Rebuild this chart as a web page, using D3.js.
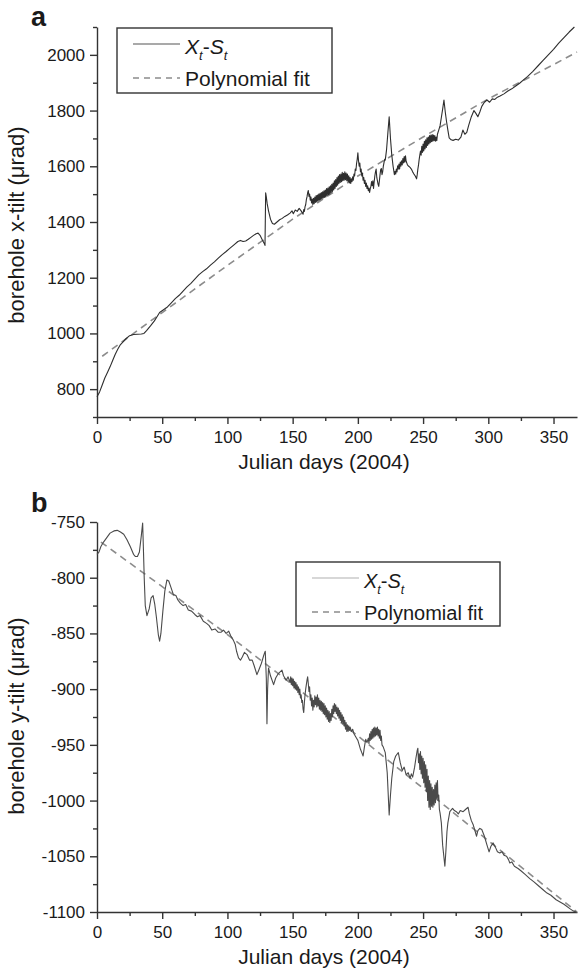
<!DOCTYPE html>
<html>
<head>
    <title></title>
    <meta http-equiv="content-type" content="text/html; charset=utf-8">
    <script type="text/javascript" src="https://cdn.jsdelivr.net/npm/d3@7"></script>
    <style>
        body { margin: 0; background: #fff; }
        text { font-family: "Liberation Sans", Arial, sans-serif; fill: #1a1a1a; }
    </style>
</head>
<body>
<div class='chart'></div>
<script type="text/javascript">
// ======================
// data, [day, tilt]
// ======================
var xTicks = [0, 50, 100, 150, 200, 250, 300, 350];
var xMinor = [25, 75, 125, 175, 225, 275, 325];
var aYTicks = [800, 1000, 1200, 1400, 1600, 1800, 2000];
var aYMinor = [700, 900, 1100, 1300, 1500, 1700, 1900, 2100];
var bYTicks = [-750, -800, -850, -900, -950, -1000, -1050, -1100];
var bYMinor = [-775, -825, -875, -925, -975, -1025, -1075];

// panel a: x-tilt
var aSeries = [[0,773],[2,790],[4,815],[6,840],[8,860],[10,880],[12,903],[14,925],[16,944],
    [18,960],[20,970],[22,980],[25,992],[28,996],[31,997],[34,998],[36,1000],[38,1010],[41,1027],
    [44,1045],[46,1060],[48,1075],[51,1085],[54,1095],[57,1110],[60,1125],[63,1137],[66,1152],
    [69,1167],[72,1180],[75,1195],[78,1210],[81,1222],[84,1232],[87,1245],[90,1257],[93,1270],
    [96,1283],[99,1294],[102,1306],[105,1318],[108,1330],[110,1334],[112,1330],[114,1332],
    [116,1338],[118,1345],[120,1352],[122,1358],[123.5,1360],[125,1352],[126.5,1338],[128,1325],
    [128.8,1316],[129.3,1505],[129.8,1490],[130.5,1465],[131.5,1440],[133,1410],[134.5,1395],
    [136,1392],[138,1400],[140,1408],[142,1413],[144,1420],[146,1425],[148,1432],[149.5,1440],
    [150.5,1430],[152,1443],[153.5,1438],[155,1449],[156.5,1440],[157.5,1432],
    [158,1428],[158.5,1445],[159,1438],[159.5,1455],[160,1462],[160.5,1480],[161,1490],
    [161.5,1505],[162,1513],[162.5,1492],[163,1500],[163.5,1478],[164,1490],[164.5,1468],
    [165,1482],[165.5,1462],[166,1485],[166.5,1466],[167,1490],[167.5,1470],[168,1495],
    [168.5,1472],[169,1497],[169.5,1476],[170,1500],[170.5,1478],[171,1503],[171.5,1480],
    [172,1506],[172.5,1484],[173,1508],[173.5,1486],[174,1512],[174.5,1488],[175,1515],
    [175.5,1490],[176,1520],[176.5,1495],[177,1522],[177.5,1498],[178,1526],[178.5,1500],
    [179,1530],[179.5,1505],[180,1535],[180.5,1510],[181,1540],[181.5,1515],[182,1548],
    [182.5,1520],[183,1552],[183.5,1528],[184,1560],[184.5,1532],[185,1565],[185.5,1538],
    [186,1570],[186.5,1542],[187,1572],[187.5,1545],[188,1578],[188.5,1548],[189,1575],
    [189.5,1550],[190,1580],[190.5,1552],[191,1576],[191.5,1548],[192,1572],[192.5,1545],
    [193,1566],[193.5,1540],[194,1560],[194.5,1538],[195,1555],[195.5,1545],[196,1562],
    [196.5,1550],[197,1572],[197.5,1565],[198,1590],[198.5,1585],[199,1610],[199.5,1625],
    [200,1648],[200.5,1620],[201,1600],[201.5,1612],[202,1580],[202.5,1590],[203,1565],
    [203.5,1575],[204,1550],[204.5,1560],[205,1538],[205.5,1550],[206,1528],[206.5,1540],
    [207,1520],[207.5,1530],[208,1512],[208.5,1522],[209,1506],[209.5,1520],[210,1528],
    [210.5,1545],[211,1530],[211.5,1548],[212,1520],[212.5,1545],[213,1565],[213.5,1580],
    [214,1590],[214.5,1560],[215,1548],[215.5,1535],[216,1528],[216.5,1548],[217,1570],
    [217.5,1588],[218,1592],[218.5,1570],[219,1580],[219.5,1600],[220,1612],[220.5,1625],
    [221,1622],[222,1660],[223,1720],[224,1778],[225,1700],[226,1640],[227,1600],[228,1570],
    [228.5,1582],[229,1572],[229.5,1590],[230,1580],[230.5,1602],[231,1590],[231.5,1608],
    [232,1590],[232.5,1615],[233,1600],[233.5,1620],[234,1605],[234.5,1628],[235,1612],
    [235.5,1635],[236,1615],[236.5,1638],[237,1618],[237.5,1612],[238,1605],[239,1600],
    [240,1596],[241,1590],[242,1580],[243,1572],[244,1565],[245,1555],[245.5,1570],[246,1590],
    [246.5,1605],[247,1625],[247.5,1640],[248,1655],[248.5,1640],[249,1672],[249.5,1650],
    [250,1680],[250.5,1655],[251,1690],[251.5,1662],[252,1695],[252.5,1668],[253,1702],
    [253.5,1675],[254,1705],[254.5,1680],[255,1710],[255.5,1685],[256,1712],[256.5,1688],
    [257,1714],[257.5,1690],[258,1712],[258.5,1692],[259,1710],[259.5,1690],[260,1705],
    [260.5,1692],[261,1715],[262,1730],[263,1745],[264,1775],[265,1805],[266,1838],[267,1795],
    [268,1760],[269,1730],[270,1702],[271.5,1695],[273,1693],[275,1697],[277,1694],[279,1705],
    [280.5,1730],[282,1715],[283.5,1722],[285,1748],[287,1778],[289,1800],[290.5,1790],
    [292,1778],[293.5,1795],[295,1815],[297,1830],[299,1838],[301,1830],[303,1842],[305,1840],
    [307,1848],[309,1852],[312,1860],[315,1870],[318,1878],[321,1888],[324,1898],[327,1910],
    [330,1922],[334,1940],[338,1960],[342,1980],[346,2000],[350,2020],[354,2042],[358,2062],
    [362,2082],[366,2100]];
var aFit = [[4,918],[50,1075],[100,1244],[150,1410],[200,1565],[250,1705],[300,1842],
    [350,1965],[368,2010]];

// panel b: y-tilt
var bSeries = [[0,-779],[1.5,-777],[3,-772],[5,-768],[7.5,-764],[10,-760],[13,-758],
    [15.5,-757.5],[18,-759],[20.5,-761],[23,-766],[25.5,-772],[28,-779],[29.5,-781],[31,-781],
    [32.5,-777],[34,-762],[35,-751],[35.6,-775],[36.2,-800],[37,-825],[38.3,-834],[40,-828],
    [41.5,-818],[43,-816],[44.3,-824],[45.5,-835],[47,-851],[48,-857],[49,-850],[50.5,-830],
    [52,-812],[53.6,-802],[55,-803],[56.5,-808],[58.5,-815],[60.5,-816],[62,-820],[64,-823],
    [66,-825],[68,-824],[70,-829],[72.5,-830],[75,-833],[77,-835],[79,-834],[81.5,-839],
    [84,-841],[86,-843],[88,-847],[90.5,-846],[93,-849],[95,-849],[97,-847],[99,-850],
    [101,-848],[102.5,-852],[104.5,-856],[106,-860],[107,-866],[108.5,-872],[110,-874],
    [111.5,-871],[113,-867],[115,-869],[117,-874],[119,-874],[120.5,-879],[122.6,-887],
    [124,-883],[126,-877],[128,-869],[129,-866],[129.8,-890],[130.3,-931],[130.8,-900],
    [131.5,-881],[133,-888],[135.4,-896],[137,-890],[139,-886],[141.8,-883],[143,-888],
    [145,-892],[146.5,-889],[148,-894],
    [148.5,-889],[149,-896],[149.5,-890],[150,-897],[150.5,-891],[151,-899],[151.5,-893],
    [152,-900],[152.5,-894],[153,-901],[153.5,-896],[154,-903],[154.5,-898],[155,-905],
    [155.5,-900],[156,-908],[156.5,-905],[157,-912],[157.5,-910],[158,-918],[158.5,-921],
    [159,-912],[159.5,-905],[160,-900],[160.5,-896],[161,-892],[161.5,-889],[162,-895],
    [162.5,-902],[163,-898],[163.5,-910],[164,-905],[164.5,-915],[165,-908],[165.5,-919],
    [166,-910],[166.5,-916],[167,-906],[167.5,-914],[168,-907],[168.5,-916],[169,-905],
    [169.5,-915],[170,-908],[170.5,-918],[171,-910],[171.5,-919],[172,-911],[172.5,-920],
    [173,-912],[173.5,-922],[174,-913],[174.5,-923],[175,-915],[175.5,-925],[176,-917],
    [176.5,-927],[177,-919],[177.5,-929],[178,-920],[178.5,-930],[179,-922],[179.5,-928],
    [180,-918],[180.5,-925],[181,-915],[181.5,-922],[182,-913],[182.5,-920],[183,-914],
    [183.5,-922],[184,-916],[184.5,-924],[185,-917],[185.5,-926],[186,-919],[186.5,-928],
    [187,-921],[187.5,-930],[188,-923],[188.5,-931],[189,-925],[189.5,-933],[190,-928],
    [190.5,-936],[191,-930],[191.5,-938],[192,-932],[192.5,-938],[193,-933],[193.5,-937],
    [194,-934],[195,-938],[196,-936],[197,-940],[198,-942],[199,-944],[200,-946],[201,-950],
    [202,-954],[203,-957],[204,-960],[205,-952],[206,-945],[207,-948],[208,-944],[208.5,-949],
    [209,-940],[209.5,-946],[210,-938],[210.5,-945],[211,-936],[211.5,-944],[212,-935],
    [212.5,-943],[213,-934],[213.5,-942],[214,-935],[214.5,-941],[215,-934],[215.5,-942],
    [216,-936],[216.5,-944],[217,-937],[217.5,-946],[218,-942],[218.5,-950],[219.5,-952],
    [221,-957],[222.5,-975],[224,-1013],[225,-995],[226,-980],[227.5,-965],[229,-960],
    [231,-957],[232.5,-966],[234,-973],[235.5,-970],[237,-977],[238.6,-975],[240,-980],
    [241,-976],[242,-979],[243.5,-970],[244.5,-962],[245.5,-955],[246,-953],[246.5,-966],
    [247,-958],[247.5,-972],[248,-956],[248.5,-976],[249,-960],[249.5,-980],[250,-962],
    [250.5,-984],[251,-965],[251.5,-988],[252,-968],[252.5,-992],[253,-972],[253.5,-1000],
    [254,-978],[254.5,-1006],[255,-982],[255.5,-1008],[256,-985],[256.5,-1005],[257,-988],
    [257.5,-1006],[258,-990],[258.5,-1004],[259,-986],[259.5,-1002],[260,-984],[260.5,-998],
    [261,-982],[261.5,-1000],[262,-995],[262.5,-1008],[263,-1011],[264,-1020],[265,-1040],
    [266.7,-1059],[267.5,-1045],[268.3,-1028],[269,-1020],[270.5,-1010],[272.6,-1007],
    [274,-1009],[275.5,-1010],[277,-1012],[278.5,-1009],[280.7,-1010],[282.5,-1008],
    [284.5,-1006],[285.5,-1012],[287,-1018],[288.5,-1022],[290,-1028],[291,-1032],[292,-1027],
    [293.5,-1025],[295,-1026],[297,-1032],[299,-1040],[300.6,-1046],[302,-1041],[303.7,-1038],
    [305.5,-1042],[307,-1046],[308.8,-1047],[310.5,-1046],[312,-1049],[314,-1050],
    [315.5,-1053],[316.5,-1056],[318,-1055],[320,-1059],[322.8,-1061],[325,-1063],[328,-1066],
    [331.8,-1070],[335,-1073],[338,-1076],[342,-1080],[345,-1083],[348,-1085],[352,-1089],
    [355,-1091],[358,-1093],[362.5,-1097],[365,-1099],[367.5,-1100]];
var bFit = [[3,-768],[50,-808],[100,-851],[150,-896],[200,-942],[250,-989],[300,-1036],
    [350,-1083],[368,-1100]];

// ======================
// layout
// ======================
var width = 579, height = 975;
var left = 97, right = 577;

var svg = d3.select('.chart')
        .append('svg')
        .attr('width', width)
        .attr('height', height);

var x = d3.scaleLinear().domain([0, 368]).range([left, right]);

function drawPanel(p) {
    var y = d3.scaleLinear().domain(p.yDomain).range([p.bottom, p.top]);
    var g = svg.append('g');

    // minor ticks
    g.append('g')
            .attr('transform', 'translate(0,' + p.bottom + ')')
            .call(d3.axisBottom(x).tickValues(xMinor).tickSize(4).tickFormat(''))
            .call(function (s) { s.select('.domain').remove(); });
    g.append('g')
            .attr('transform', 'translate(' + left + ',0)')
            .call(d3.axisLeft(y).tickValues(p.yMinor).tickSize(4).tickFormat(''))
            .call(function (s) { s.select('.domain').remove(); });

    g.append('g')
            .attr('transform', 'translate(0,' + p.bottom + ')')
            .call(d3.axisBottom(x).tickValues(xTicks).tickSize(7).tickSizeOuter(0)
                    .tickPadding(7).tickFormat(function (d) { return String(d); }));
    g.append('g')
            .attr('transform', 'translate(' + left + ',0)')
            .call(d3.axisLeft(y).tickValues(p.yTicks).tickSize(7).tickSizeOuter(0)
                    .tickPadding(5).tickFormat(function (d) { return String(d); }));

    g.selectAll('.tick line, .domain').attr('stroke', '#333').attr('stroke-width', 1.4);
    g.selectAll('.tick text').attr('font-size', 17).attr('fill', '#1a1a1a')
            .attr('font-family', '"Liberation Sans", Arial, sans-serif');

    var line = d3.line()
            .x(function (d) { return x(d[0]); })
            .y(function (d) { return y(d[1]); });
    // fit
    g.append('path')
            .datum(p.fit)
            .attr('d', line)
            .attr('fill', 'none')
            .attr('stroke', '#8c8c8c')
            .attr('stroke-width', 1.6)
            .attr('stroke-dasharray', '7,5');
    // measured
    g.append('path')
            .datum(p.series)
            .attr('d', line)
            .attr('fill', 'none')
            .attr('stroke', p.color)
            .attr('stroke-width', 1.1)
            .attr('stroke-linejoin', 'round');

    // titles
    g.append('text')
            .attr('x', 324).attr('y', p.bottom + 52)
            .attr('text-anchor', 'middle')
            .attr('font-size', 21)
            .text('Julian days (2004)');
    g.append('text')
            .attr('transform', 'translate(24,' + p.yTitle + ') rotate(-90)')
            .attr('text-anchor', 'middle')
            .attr('font-size', 22)
            .text(p.yLabel);
    g.append('text')
            .attr('x', p.tag[0]).attr('y', p.tag[1])
            .attr('font-size', 27)
            .attr('font-weight', 'bold')
            .attr('fill', '#000')
            .text(p.tagText);

    // legend
    var lg = p.legend;
    g.append('rect')
            .attr('x', lg.x).attr('y', lg.y)
            .attr('width', lg.w).attr('height', lg.h)
            .attr('fill', '#fff')
            .attr('stroke', '#333')
            .attr('stroke-width', 1.4);
    g.append('line')
            .attr('x1', lg.x + 16).attr('x2', lg.x + 63)
            .attr('y1', lg.y + 16).attr('y2', lg.y + 16)
            .attr('stroke', lg.lineColor).attr('stroke-width', 1.2);
    g.append('line')
            .attr('x1', lg.x + 16).attr('x2', lg.x + 63)
            .attr('y1', lg.y + 50).attr('y2', lg.y + 50)
            .attr('stroke', '#8c8c8c').attr('stroke-width', 1.4)
            .attr('stroke-dasharray', '6,5');
    var t1 = g.append('text')
            .attr('x', lg.x + 68).attr('y', lg.y + 26)
            .attr('font-size', lg.font);
    t1.append('tspan').attr('font-style', 'italic').text('X');
    t1.append('tspan').attr('font-style', 'italic').attr('font-size', lg.font * 0.62)
            .attr('dy', 6).text('t');
    t1.append('tspan').attr('dy', -6).text('-');
    t1.append('tspan').attr('font-style', 'italic').text('S');
    t1.append('tspan').attr('font-style', 'italic').attr('font-size', lg.font * 0.62)
            .attr('dy', 6).text('t');
    g.append('text')
            .attr('x', lg.x + 68).attr('y', lg.y + 58)
            .attr('font-size', lg.font)
            .text('Polynomial fit');
}

drawPanel({
    top: 27, bottom: 417, yDomain: [700, 2100],
    yTicks: aYTicks, yMinor: aYMinor,
    series: aSeries, fit: aFit,
    color: '#2e2e2e',
    yLabel: 'borehole x-tilt (\u03bcrad)', yTitle: 225,
    tag: [31, 26], tagText: 'a',
    legend: { x: 117, y: 28, w: 215, h: 65, font: 21, lineColor: '#555' }
});

drawPanel({
    top: 522, bottom: 912, yDomain: [-1100, -750],
    yTicks: bYTicks, yMinor: bYMinor,
    series: bSeries, fit: bFit,
    color: '#4a4a4a',
    yLabel: 'borehole y-tilt (\u03bcrad)', yTitle: 716,
    tag: [31, 512], tagText: 'b',
    legend: { x: 296, y: 562, w: 204, h: 64, font: 20, lineColor: '#b0b0b0' }
});
</script>
</body>
</html>
